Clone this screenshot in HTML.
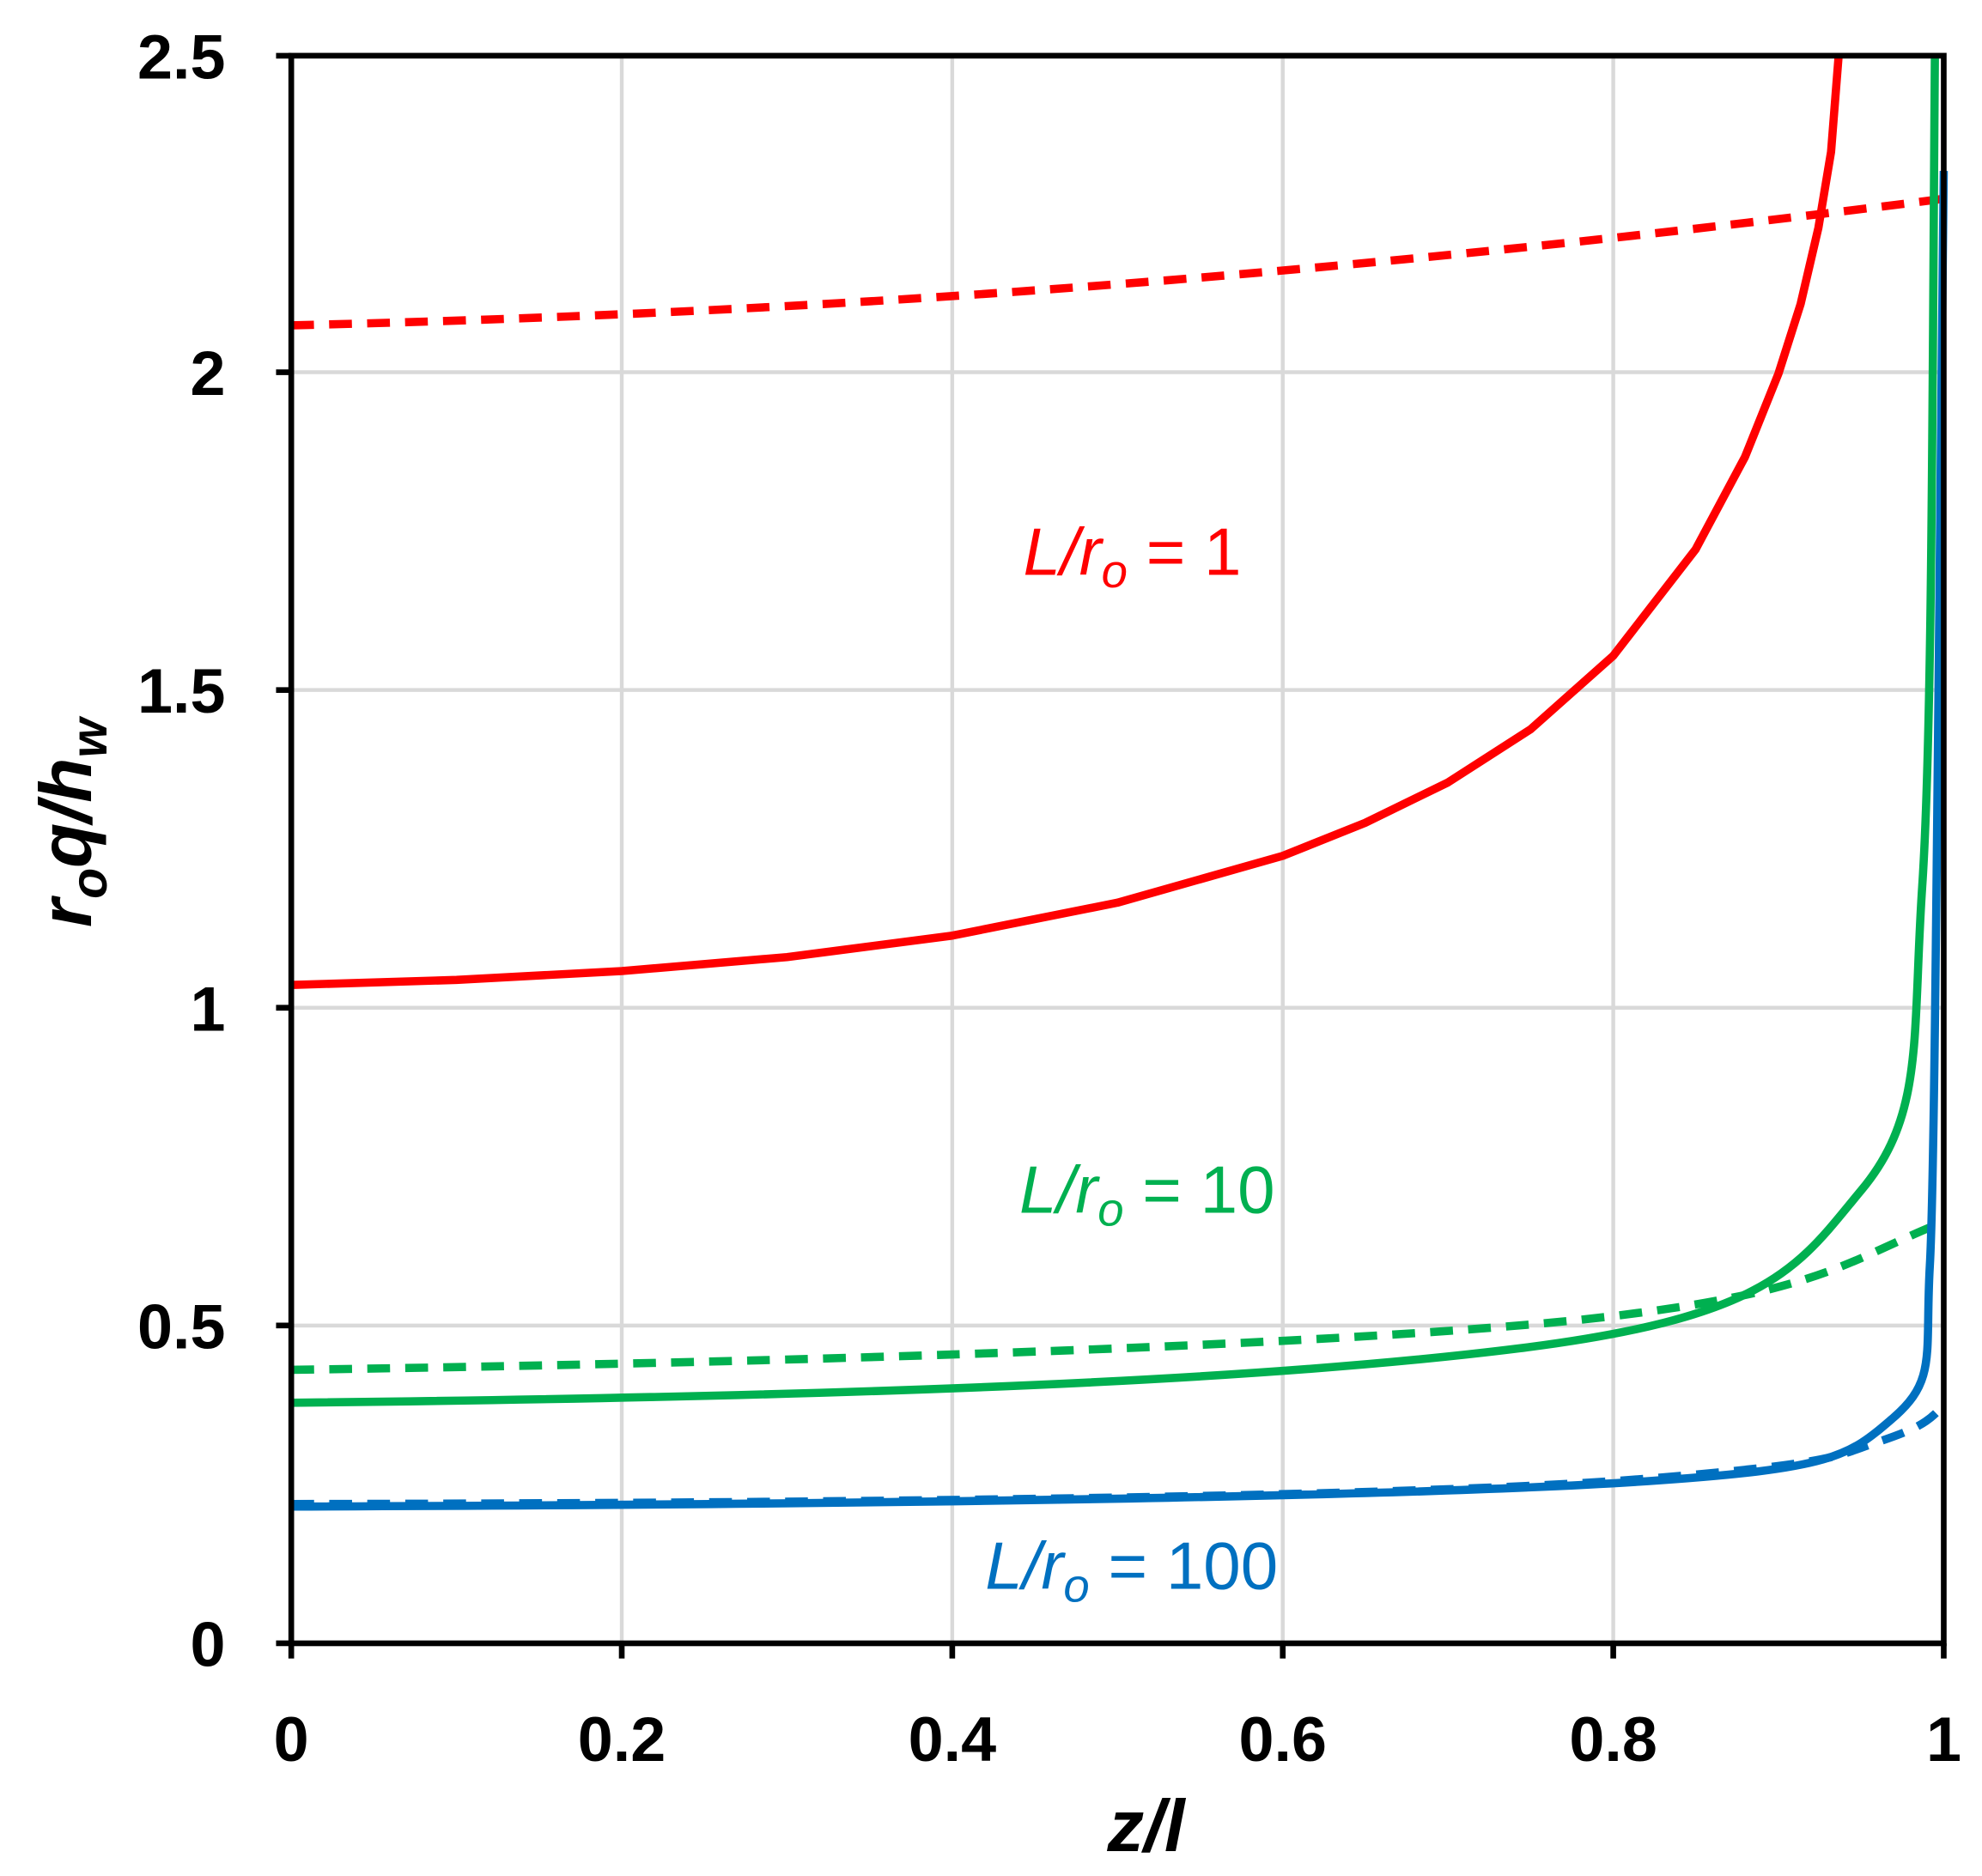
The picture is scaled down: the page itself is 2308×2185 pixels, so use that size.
<!DOCTYPE html>
<html><head><meta charset="utf-8"><style>html,body{margin:0;padding:0;background:#fff}svg{display:block}</style></head>
<body>
<svg width="2308" height="2185" viewBox="0 0 1565.2 1481.8" xmlns="http://www.w3.org/2000/svg">
<rect width="1565.2" height="1481.8" fill="#fff"/>
<g stroke="#d9d9d9" stroke-width="3">
<line x1="491" y1="44" x2="491" y2="1298"/><line x1="752" y1="44" x2="752" y2="1298"/>
<line x1="1013" y1="44" x2="1013" y2="1298"/><line x1="1274" y1="44" x2="1274" y2="1298"/>
<line x1="230" y1="1047" x2="1535" y2="1047"/><line x1="230" y1="796" x2="1535" y2="796"/>
<line x1="230" y1="545" x2="1535" y2="545"/><line x1="230" y1="294" x2="1535" y2="294"/>
</g>
<g fill="none" stroke-linejoin="round" stroke-width="6.5">
<polyline stroke="#ff0000" points="230,778 360.5,774 491,767 621.5,756 752,739 882.5,713 1013,676 1078,650 1143.5,618 1208.8,576 1274,518 1339,434 1378,361 1404.5,295 1422,240 1436,180 1446,120 1452,44"/>
<path stroke="#ff0000" stroke-dasharray="18 12" d="M230,257 C600,248 1000,225 1535,157"/>
<path stroke="#00b050" d="M230,1108 C700,1103 1000,1090 1200,1065 S1420,1000 1470,940 S1510,820 1518,700 S1526,300 1528,44"/>
<path stroke="#00b050" stroke-dasharray="18 12" d="M230,1082 C700,1075 1100,1060 1270,1040 S1460,995 1535,965"/>
<path stroke="#0070c0" stroke-dasharray="18 12" d="M230,1188 C800,1187 1150,1180 1300,1168 S1450,1150 1480,1140 S1520,1125 1530,1115"/>
<path stroke="#0070c0" d="M230,1190 C800,1188 1150,1180 1300,1170 S1460,1150 1495,1120 S1520,1070 1524,1000 S1530,600 1535,135"/>
</g>
<g stroke="#000" stroke-width="4.5" fill="none">
<rect x="230" y="44" width="1305" height="1254"/>
<line x1="218" y1="44" x2="230" y2="44"/><line x1="218" y1="294" x2="230" y2="294"/>
<line x1="218" y1="545" x2="230" y2="545"/><line x1="218" y1="796" x2="230" y2="796"/>
<line x1="218" y1="1047" x2="230" y2="1047"/><line x1="218" y1="1298" x2="230" y2="1298"/>
<line x1="230" y1="1298" x2="230" y2="1310"/><line x1="491" y1="1298" x2="491" y2="1310"/>
<line x1="752" y1="1298" x2="752" y2="1310"/><line x1="1013" y1="1298" x2="1013" y2="1310"/>
<line x1="1274" y1="1298" x2="1274" y2="1310"/><line x1="1535" y1="1298" x2="1535" y2="1310"/>
</g>
<g font-family="Liberation Sans, sans-serif" font-weight="bold" font-size="50" fill="#000">
<g text-anchor="end">
<text x="178" y="62">2.5</text><text x="178" y="312">2</text><text x="178" y="563">1.5</text>
<text x="178" y="814">1</text><text x="178" y="1065">0.5</text><text x="178" y="1316">0</text>
</g>
<g text-anchor="middle">
<text x="230" y="1391">0</text><text x="491" y="1391">0.2</text><text x="752" y="1391">0.4</text>
<text x="1013" y="1391">0.6</text><text x="1274" y="1391">0.8</text><text x="1535" y="1391">1</text>
</g>
<text x="905" y="1462" text-anchor="middle" font-style="italic" font-size="58">z/l</text>
<text transform="translate(72,650) rotate(-90)" text-anchor="middle" font-style="italic" font-size="58">r<tspan font-size="40" dy="12">o</tspan><tspan dy="-12">q/h</tspan><tspan font-size="40" dy="12">w</tspan></text>
</g>
<g font-family="Liberation Sans, sans-serif" font-size="53">
<text x="808" y="454" fill="#ff0000"><tspan font-style="italic">L/r</tspan><tspan font-style="italic" font-size="37" dy="10">o</tspan><tspan dy="-10"> = 1</tspan></text>
<text x="805" y="958" fill="#00b050"><tspan font-style="italic">L/r</tspan><tspan font-style="italic" font-size="37" dy="10">o</tspan><tspan dy="-10"> = 10</tspan></text>
<text x="778" y="1255" fill="#0070c0"><tspan font-style="italic">L/r</tspan><tspan font-style="italic" font-size="37" dy="10">o</tspan><tspan dy="-10"> = 100</tspan></text>
</g>
</svg>
</body></html>
